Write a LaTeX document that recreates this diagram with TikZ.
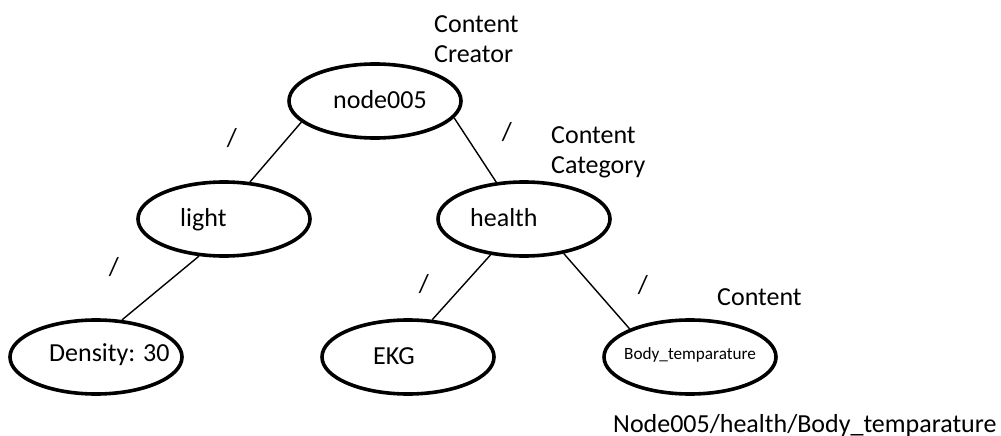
\documentclass[tikz,border=0pt]{standalone}
\usepackage{fontspec}
\setmainfont{Carlito}
\usetikzlibrary{shapes.geometric}
\begin{document}
\begin{tikzpicture}[x=1pt,y=-1pt,
  ell/.style={ellipse,draw,line width=3.6pt,minimum width=172pt,minimum height=74pt,inner sep=0pt},
  conn/.style={line width=1.4pt},
  big/.style={font=\fontsize{26}{30}\selectfont,inner sep=0pt,anchor=base west},
  small/.style={font=\fontsize{17.2}{20}\selectfont,inner sep=0pt,anchor=base west},
  slash/.style={font=\fontsize{26}{30}\selectfont,inner sep=0pt}]
\path[use as bounding box,fill=white] (0,0) rectangle (1001,436);
% ellipses
\node[ell] (n5) at (375,101) {};
\node[ell] (light) at (224,219) {};
\node[ell] (health) at (524,219) {};
\node[ell] (dens) at (96,357) {};
\node[ell] (ekg) at (408,357) {};
\node[ell] (body) at (690,357) {};
% texts inside
\node[big] (tn5) at (333,108) {node005};
\node[big] (tlight) at (180,226) {light};
\node[big] (thealth) at (470,226) {health};
\node[big] (tdens) at (49,361) {Density: 30};
\node[big] (tekg) at (373,364) {EKG};
\node[small] (tbody) at (624,359) {Body\_temparature};
% connectors
\draw[conn] (n5.196) -- (light.55);
\draw[conn] (n5.348) -- (health.127);
\draw[conn] (light.236) -- (dens.55);
\draw[conn] (health.227) -- (ekg.57);
\draw[conn] (health.319) -- (body.155);
% slashes
\node[slash] (s1) at (232,138) {/};
\node[slash] (s2) at (507,132) {/};
\node[slash] (s3) at (114,267) {/};
\node[slash] (s4) at (424,284) {/};
\node[slash] (s5) at (643,285) {/};
% labels
\node[big] (lcc1) at (434,33) {Content};
\node[big] (lcc2) at (434,63) {Creator};
\node[big] (lcat1) at (551,143) {Content};
\node[big] (lcat2) at (551,173) {Category};
\node[big] (lcon) at (717,305) {Content};
\node[big] (lpath) at (613,432) {Node005/health/Body\_temparature};
\end{tikzpicture}
\end{document}
